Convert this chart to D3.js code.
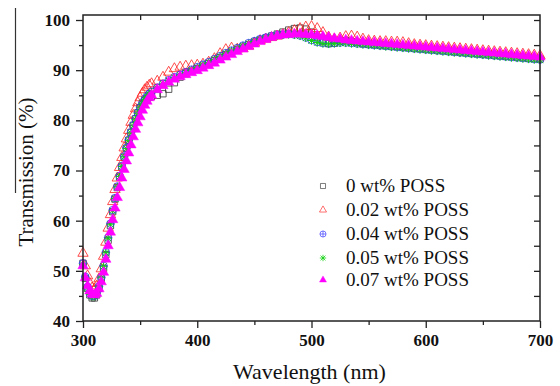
<!DOCTYPE html>
<html>
<head>
<meta charset="utf-8">
<script src="https://cdn.jsdelivr.net/npm/d3@7"></script>
<style>
  body { margin: 0; background: #fff; }
  svg { display: block; }
</style>
</head>
<body>
<div id="myPlot"></div>
<script>
// Wavelengths (nm)
const wavelengths = [
  300, 302, 304, 306, 308, 310, 312, 314, 316, 318,
  320, 322, 324, 326, 328, 330, 332, 334, 336, 338,
  340, 342, 344, 346, 348, 350, 352, 354, 356, 358,
  360,
  365, 370, 375, 380, 385, 390, 395, 400, 405, 410,
  415, 420, 425, 430, 435, 440, 445, 450, 455, 460,
  465, 470, 475, 480, 485, 490, 495, 500, 505, 510,
  515, 520, 525, 530, 535, 540, 545, 550, 555, 560,
  565, 570, 575, 580, 585, 590, 595, 600, 605, 610,
  615, 620, 625, 630, 635, 640, 645, 650, 655, 660,
  665, 670, 675, 680, 685, 690, 695, 700
];

// Transmission (%) per POSS loading
const poss00 = [
  51.5, 48.5, 46.5, 45.2, 44.6, 44.6, 45.2, 46.5, 48.3, 50.5,
  53.2, 56.1, 59.0, 61.8, 64.3, 66.6, 68.7, 70.7, 72.6, 74.4,
  76.0, 77.6, 79.0, 80.3, 81.5, 82.5, 83.3, 83.9, 84.3, 84.6,
  84.8,
  85.0, 85.3, 86.2, 87.5, 88.6, 89.3, 89.8, 90.3, 90.8, 91.3,
  91.9, 92.5, 93.1, 93.6, 94.1, 94.6, 95.1, 95.6, 96.0, 96.4,
  96.8, 97.2, 97.6, 98.0, 98.3, 98.4, 98.2, 97.6, 96.6, 95.7,
  95.3, 95.4, 95.8, 95.9, 95.7, 95.5, 95.3, 95.2, 95.1, 95.0,
  94.9, 94.8, 94.7, 94.6, 94.5, 94.4, 94.3, 94.2, 94.1, 94.0,
  93.9, 93.8, 93.7, 93.6, 93.5, 93.4, 93.3, 93.2, 93.1, 93.0,
  92.9, 92.8, 92.7, 92.6, 92.5, 92.4, 92.3, 92.2
];
const poss02 = [
  53.5, 51.0, 49.0, 47.5, 46.6, 46.4, 47.0, 48.4, 50.4, 52.9,
  55.7, 58.5, 61.2, 63.8, 66.2, 68.5, 70.6, 72.6, 74.5, 76.3,
  78.0, 79.6, 81.0, 82.3, 83.5, 84.5, 85.4, 86.1, 86.6, 87.0,
  87.3,
  87.8, 88.6, 89.6, 90.3, 90.6, 90.8, 90.9, 91.0, 91.2, 91.6,
  92.3, 93.3, 94.1, 94.4, 94.2, 94.3, 94.8, 95.4, 95.9, 96.2,
  96.5, 96.8, 97.1, 97.5, 97.9, 98.3, 98.6, 98.7, 98.3, 97.5,
  96.6, 96.2, 96.4, 96.7, 96.8, 96.6, 96.2, 95.9, 95.8, 95.7,
  95.7, 95.6, 95.6, 95.5, 95.3, 95.1, 95.0, 94.9, 94.8, 94.7,
  94.6, 94.5, 94.4, 94.3, 94.2, 94.1, 94.0, 93.9, 93.8, 93.7,
  93.6, 93.5, 93.4, 93.3, 93.2, 93.1, 93.0, 92.9
];
const poss04 = [
  51.5, 48.8, 46.8, 45.5, 45.0, 45.0, 45.6, 46.9, 48.7, 51.0,
  53.7, 56.6, 59.4, 62.1, 64.5, 66.8, 68.9, 70.9, 72.8, 74.5,
  76.1, 77.6, 79.0, 80.3, 81.5, 82.6, 83.5, 84.2, 84.8, 85.3,
  85.7,
  86.5, 87.3, 88.0, 88.6, 89.1, 89.6, 90.1, 90.6, 91.1, 91.6,
  92.2, 92.8, 93.4, 93.9, 94.4, 94.9, 95.4, 95.8, 96.2, 96.5,
  96.8, 97.0, 97.1, 97.2, 97.1, 96.9, 96.5, 96.0, 95.6, 95.4,
  95.3, 95.4, 95.5, 95.5, 95.4, 95.3, 95.2, 95.1, 95.0, 94.9,
  94.8, 94.7, 94.6, 94.5, 94.4, 94.3, 94.2, 94.1, 94.0, 93.9,
  93.8, 93.7, 93.6, 93.5, 93.4, 93.3, 93.2, 93.1, 93.0, 92.9,
  92.8, 92.7, 92.6, 92.5, 92.4, 92.3, 92.2, 92.1
];
const poss05 = [
  51.3, 48.6, 46.6, 45.3, 44.9, 44.9, 45.5, 46.8, 48.6, 50.9,
  53.6, 56.5, 59.3, 62.0, 64.4, 66.7, 68.8, 70.8, 72.7, 74.4,
  76.0, 77.5, 78.9, 80.2, 81.4, 82.5, 83.4, 84.1, 84.7, 85.2,
  85.6,
  86.4, 87.2, 87.9, 88.5, 89.0, 89.5, 90.0, 90.5, 91.0, 91.5,
  92.1, 92.7, 93.3, 93.8, 94.3, 94.8, 95.3, 95.7, 96.1, 96.4,
  96.7, 96.9, 97.0, 97.1, 97.0, 96.8, 96.4, 95.9, 95.5, 95.3,
  95.2, 95.3, 95.4, 95.4, 95.3, 95.2, 95.1, 95.0, 94.9, 94.8,
  94.7, 94.6, 94.5, 94.4, 94.3, 94.2, 94.1, 94.0, 93.9, 93.8,
  93.7, 93.6, 93.5, 93.4, 93.3, 93.2, 93.1, 93.0, 92.9, 92.8,
  92.7, 92.6, 92.5, 92.4, 92.3, 92.2, 92.1, 92.0
];
const poss07 = [
  51.0, 48.6, 47.0, 46.0, 45.4, 45.2, 45.5, 46.4, 47.8, 49.7,
  52.3, 55.0, 57.7, 60.2, 62.5, 64.6, 66.6, 68.5, 70.2, 71.9,
  73.5, 75.1, 76.7, 78.2, 79.5, 80.7, 82.0, 83.0, 83.8, 84.5,
  85.0,
  86.1, 86.9, 87.6, 88.2, 88.7, 89.1, 89.5, 89.9, 90.4, 90.9,
  91.4, 92.0, 92.6, 93.1, 93.7, 94.2, 94.7, 95.2, 95.7, 96.1,
  96.5, 96.8, 97.0, 97.1, 97.2, 97.2, 97.1, 97.0, 96.9, 96.7,
  96.5, 96.3, 96.2, 96.0, 95.9, 95.8, 95.7, 95.6, 95.5, 95.4,
  95.3, 95.2, 95.1, 95.0, 94.9, 94.8, 94.7, 94.6, 94.5, 94.4,
  94.3, 94.2, 94.1, 94.0, 93.9, 93.8, 93.7, 93.6, 93.5, 93.4,
  93.3, 93.2, 93.1, 93.0, 92.9, 92.8, 92.7, 92.6
];

const seriesNames = ["0 wt% POSS", "0.02 wt% POSS", "0.04 wt% POSS", "0.05 wt% POSS", "0.07 wt% POSS"];
const xTicks = [300, 400, 500, 600, 700];
const yTicks = [40, 50, 60, 70, 80, 90, 100];

// Set Dimensions
const svgW = 560;
const svgH = 386;
const plotLeft = 83;
const plotRight = 540;
const plotTop = 15;
const plotBottom = 321;

const svg = d3.select("#myPlot")
  .append("svg")
  .attr("width", svgW)
  .attr("height", svgH);

const x = d3.scaleLinear().domain([300, 700]).range([plotLeft, plotRight]);
const y = d3.scaleLinear().domain([40, 101]).range([plotBottom, plotTop]);

// marker shapes
const triPath = d3.symbol().type(d3.symbolTriangle).size(46)();
const legTriPath = d3.symbol().type(d3.symbolTriangle).size(34)();
const squarePath = d3.symbol().type(d3.symbolSquare).size(40)();
const circlePlus = "M3.8,0A3.8,3.8,0,1,1,-3.8,0A3.8,3.8,0,1,1,3.8,0ZM-3.8,0H3.8M0,-3.8V3.8";
const asterisk = "M-4,0H4M0,-4V4M-3,-3L3,3M-3,3L3,-3";

const series = [
  { name: seriesNames[0], values: poss00, path: squarePath, fill: "none", stroke: "#333", sw: 0.8 },
  { name: seriesNames[1], values: poss02, path: triPath, fill: "none", stroke: "#ff2020", sw: 0.8 },
  { name: seriesNames[2], values: poss04, path: circlePlus, fill: "none", stroke: "#3030ff", sw: 0.8 },
  { name: seriesNames[3], values: poss05, path: asterisk, fill: "none", stroke: "#10d010", sw: 1 },
  { name: seriesNames[4], values: poss07, path: triPath, fill: "#ff00ff", stroke: "#ff00ff", sw: 0.5 }
];

// Dots
series.forEach(function (s) {
  svg.append("g")
    .selectAll("path")
    .data(wavelengths).enter()
    .append("path")
    .attr("d", s.path)
    .attr("transform", function (d, i) { return "translate(" + x(d) + "," + y(s.values[i]) + ")"; })
    .attr("fill", s.fill)
    .attr("stroke", s.stroke)
    .attr("stroke-width", s.sw);
});

// Axes
const tickFont = "'Liberation Serif', 'Times New Roman', serif";

const xAxisB = svg.append("g")
  .attr("transform", "translate(0," + plotBottom + ")")
  .call(d3.axisBottom(x).tickValues(xTicks).tickSize(7).tickPadding(6).tickFormat(d3.format("d")));
const xMinorB = svg.append("g")
  .attr("transform", "translate(0," + plotBottom + ")")
  .call(d3.axisBottom(x).tickValues([350, 450, 550, 650]).tickSize(4).tickFormat(""));
const xAxisT = svg.append("g")
  .attr("transform", "translate(0," + plotTop + ")")
  .call(d3.axisBottom(x).tickValues([350, 400, 450, 500, 550, 600, 650]).tickSize(5).tickFormat(""));

const yAxisL = svg.append("g")
  .attr("transform", "translate(" + plotLeft + ",0)")
  .call(d3.axisLeft(y).tickValues(yTicks).tickSize(7).tickPadding(6).tickFormat(d3.format("d")));
const yMinorL = svg.append("g")
  .attr("transform", "translate(" + plotLeft + ",0)")
  .call(d3.axisLeft(y).tickValues([45, 55, 65, 75, 85, 95]).tickSize(4).tickFormat(""));
const yAxisR = svg.append("g")
  .attr("transform", "translate(" + plotRight + ",0)")
  .call(d3.axisLeft(y).tickValues([45, 50, 55, 60, 65, 70, 75, 80, 85, 90, 95, 100]).tickSize(6).tickFormat(""));

[xAxisB, xMinorB, xAxisT, yAxisL, yMinorL, yAxisR].forEach(function (g) {
  g.select(".domain").remove();
  g.selectAll("line").attr("stroke", "#222").attr("stroke-width", 1.3);
});
xAxisB.selectAll("text").attr("font-family", tickFont).attr("font-weight", "bold").attr("font-size", 17).attr("fill", "#111");
yAxisL.selectAll("text").attr("font-family", tickFont).attr("font-weight", "bold").attr("font-size", 17).attr("fill", "#111");

// Frame
svg.append("rect")
  .attr("x", plotLeft).attr("y", plotTop)
  .attr("width", plotRight - plotLeft).attr("height", plotBottom - plotTop)
  .attr("fill", "none").attr("stroke", "#222").attr("stroke-width", 1.5);

// Axis titles
svg.append("text")
  .attr("x", (plotLeft + plotRight) / 2 - 2).attr("y", 379)
  .attr("text-anchor", "middle")
  .attr("font-family", tickFont).attr("font-size", 22).attr("fill", "#111")
  .text("Wavelength (nm)");

svg.append("text")
  .attr("transform", "translate(33," + 172 + ") rotate(-90)")
  .attr("text-anchor", "middle")
  .attr("font-family", tickFont).attr("font-size", 21).attr("fill", "#111")
  .text("Transmission (%)");

// scan edge line on the left
svg.append("line").attr("x1", 15.5).attr("x2", 15.5).attr("y1", 8).attr("y2", 193)
  .attr("stroke", "#333").attr("stroke-width", 1.2);

// Legend
const legendY = [186, 210, 234, 258, 280];
const legend = svg.append("g");
series.forEach(function (s, i) {
  legend.append("path")
    .attr("d", i === 1 || i === 4 ? legTriPath : s.path)
    .attr("transform", "translate(323," + legendY[i] + ") scale(0.8)")
    .attr("fill", s.fill)
    .attr("stroke", s.stroke)
    .attr("stroke-width", s.sw);
  legend.append("text")
    .attr("x", 346).attr("y", legendY[i] + 6)
    .attr("font-family", tickFont).attr("font-size", 19).attr("fill", "#111")
    .text(s.name);
});
</script>
</body>
</html>
